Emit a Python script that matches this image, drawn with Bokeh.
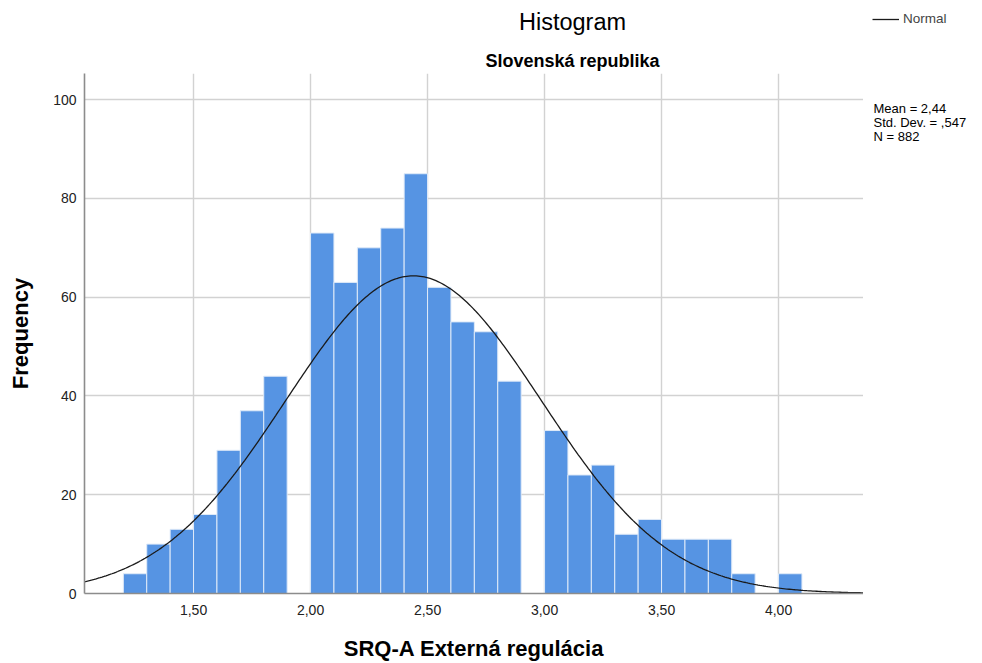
import numpy as np
from bokeh.plotting import figure
from bokeh.layouts import column, row
from bokeh.core.properties import value
from bokeh.models import Legend, LegendItem, FixedTicker, Range1d, ColumnDataSource
from bokeh.embed import file_html
from bokeh.resources import INLINE

# ---- data ----
BIN_LEFT = [1.2, 1.3, 1.4, 1.5, 1.6, 1.7, 1.8, 1.9, 2.0, 2.1, 2.2, 2.3, 2.4, 2.5, 2.6,
            2.7, 2.8, 2.9, 3.0, 3.1, 3.2, 3.3, 3.4, 3.5, 3.6, 3.7, 3.8, 3.9, 4.0]
COUNTS = [4, 10, 13, 16, 29, 37, 44, 0, 73, 63, 70, 74, 85, 62, 55,
          53, 43, 0, 33, 24, 26, 12, 15, 11, 11, 11, 4, 0, 4]
BIN_WIDTH = 0.1
X_TICKS = [1.5, 2.0, 2.5, 3.0, 3.5, 4.0]
X_TICK_LABELS = ["1,50", "2,00", "2,50", "3,00", "3,50", "4,00"]
Y_TICKS = [0, 20, 40, 60, 80, 100]
MEAN = 2.44
SD = 0.547
N = 882
STATS_LINES = ["Mean = 2,44", "Std. Dev. = ,547", "N = 882"]
TITLE = "Histogram"
SUBTITLE = "Slovenská republika"
X_LABEL = "SRQ-A Externá regulácia"
Y_LABEL = "Frequency"
LEGEND_LABEL = "Normal"

FONT = "Liberation Sans"
X_MIN, X_MAX = 1.034, 4.363
Y_MIN, Y_MAX = 0, 105.3

# ---- layout (pixels) ----
W, H = 982, 663
FRAME_L, FRAME_R, FRAME_T, FRAME_B = 84, 863, 73, 593


def text_strip(width, height, x0, y0):
    """A bare figure whose data units equal page pixels (y pointing down)."""
    f = figure(width=width, height=height, output_backend="svg", toolbar_location=None,
               x_range=Range1d(x0, x0 + width), y_range=Range1d(y0 + height, y0),
               x_axis_type=None, y_axis_type=None, min_border=0)
    f.outline_line_color = None
    f.grid.visible = False
    return f


# ---- main histogram ----
p = figure(width=FRAME_R, height=H - FRAME_T, output_backend="svg", toolbar_location=None,
           x_range=Range1d(X_MIN, X_MAX), y_range=Range1d(Y_MIN, Y_MAX),
           min_border_left=FRAME_L, min_border_right=0,
           min_border_top=0, min_border_bottom=H - FRAME_B)
p.outline_line_color = None
p.background_fill_color = "white"

left = [l for l, c in zip(BIN_LEFT, COUNTS) if c > 0]
top = [c for c in COUNTS if c > 0]
src = ColumnDataSource(dict(left=left, right=[l + BIN_WIDTH for l in left], top=top,
                            bottom=[0] * len(left)))
p.quad(left="left", right="right", top="top", bottom="bottom", source=src,
       fill_color="#5694e3", line_color="#dfeaf8", line_width=1)

# normal curve from the stated statistics
xs = np.linspace(X_MIN, X_MAX, 400)
ys = N * BIN_WIDTH / (SD * np.sqrt(2 * np.pi)) * np.exp(-0.5 * ((xs - MEAN) / SD) ** 2)
p.line(xs, ys, line_color="#1a1a1a", line_width=1.3)

p.xaxis.ticker = FixedTicker(ticks=X_TICKS)
p.xaxis.major_label_overrides = {t: l for t, l in zip(X_TICKS, X_TICK_LABELS)}
p.yaxis.ticker = FixedTicker(ticks=Y_TICKS)
for ax in (p.xaxis[0], p.yaxis[0]):
    ax.axis_line_color = "#8c8c8c"
    ax.axis_line_width = 1.6
    ax.major_tick_line_color = None
    ax.minor_tick_line_color = None
    ax.major_tick_out = 0
    ax.major_tick_in = 0
    ax.major_label_text_font = FONT
    ax.major_label_text_font_size = "14px"
    ax.major_label_text_color = "#222222"
    ax.axis_label_text_font = FONT
    ax.axis_label_text_font_style = "bold"
    ax.axis_label_text_color = "#000000"
p.xaxis.major_label_standoff = 11
p.yaxis.major_label_standoff = 8
p.xaxis.axis_label = X_LABEL
p.xaxis.axis_label_text_font_size = "22px"
p.xaxis.axis_label_standoff = 18
p.yaxis.axis_label = Y_LABEL
p.yaxis.axis_label_text_font_size = "22px"
p.yaxis.axis_label_standoff = 17

p.grid.grid_line_color = "#d2d2d2"
p.grid.grid_line_width = 1.4

# ---- top strip: titles and legend ----
t = text_strip(W, FRAME_T, 0, 0)
t.text(x=[572], y=[21], text=[TITLE], text_font=value(FONT), text_font_size="23.5px",
       text_align="center", text_baseline="middle", text_color="#000000")
t.text(x=[572], y=[60], text=[SUBTITLE], text_font=value(FONT), text_font_size="18px",
       text_font_style="bold", text_align="center", text_baseline="middle",
       text_color="#000000")
# legend sample line uses a renderer whose points lie outside the strip's view
legend_src = t.line(x=[-20, -10], y=[-20, -20], line_color="#1a1a1a", line_width=1.3)
legend = Legend(items=[LegendItem(label=LEGEND_LABEL, renderers=[legend_src])],
                location=(872, FRAME_T - 26), padding=0, margin=0, spacing=0,
                glyph_width=27, glyph_height=14, label_standoff=4,
                label_text_font=FONT, label_text_font_size="13.5px",
                label_height=14, background_fill_alpha=0, border_line_alpha=0)
t.add_layout(legend)

# ---- right strip: summary statistics ----
s = text_strip(W - FRAME_R, H - FRAME_T, FRAME_R, FRAME_T)
s.text(x=[873] * len(STATS_LINES), y=[113 + 15.5 * i for i in range(len(STATS_LINES))],
       text=STATS_LINES, text_font=value(FONT), text_font_size="13px",
       text_align="left", text_baseline="middle", text_color="#000000")

layout = column(t, row(p, s, spacing=0), spacing=0)
open("out.html", "w").write(file_html(layout, INLINE))
